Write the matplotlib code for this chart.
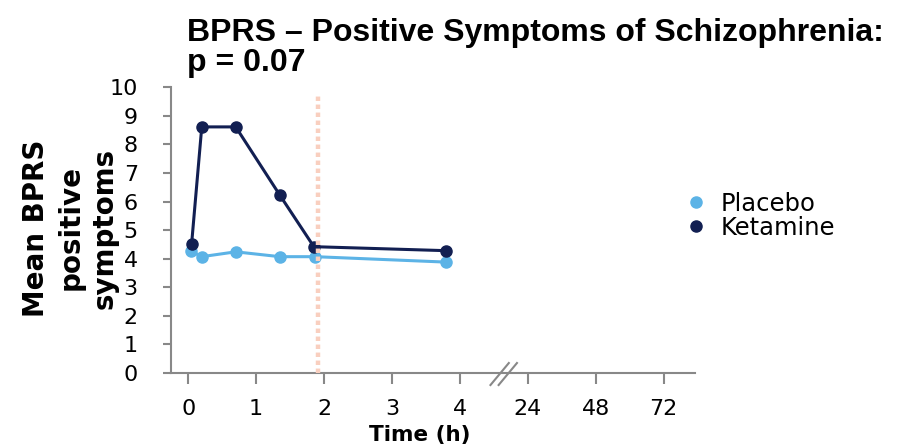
import matplotlib
matplotlib.use("Agg")
import matplotlib.pyplot as plt
import numpy as np

# Data
x_tick_labels = ["0", "1", "2", "3", "4", "24", "48", "72"]
x_tick_pos = [0, 1, 2, 3, 4, 5, 6, 7]
time_h = [0.05, 0.2, 0.7, 1.35, 1.85, 3.8]
placebo = [4.27, 4.07, 4.24, 4.07, 4.07, 3.88]
ketamine = [4.50, 8.61, 8.61, 6.22, 4.42, 4.28]
time_placebo = [0.04, 0.2, 0.7, 1.35, 1.87, 3.8]
vline_x = 1.91
vline_top = 9.72

c_plac = "#5cb3e6"
c_ket = "#121f52"
axis_col = "#888888"

fig = plt.figure(figsize=(9.01, 4.47), dpi=100)
ax = fig.add_axes([0.19, 0.1655, 0.581, 0.6395])

ax.plot(time_placebo, placebo, "-o", color=c_plac, lw=2.2, ms=8, zorder=3)
ax.plot(time_h, ketamine, "-o", color=c_ket, lw=2.2, ms=8, zorder=4)
ax.plot([vline_x, vline_x], [0, vline_top], linestyle=(0, (1, 0.8)), color="#f9cfbf", lw=3.2, zorder=5)

ax.set_xlim(-0.25, 7.456)
ax.set_ylim(0, 10)
ax.set_yticks(range(0, 11))
ax.set_xticks(x_tick_pos)
ax.set_xticklabels(x_tick_labels)

for s in ["top", "right"]:
    ax.spines[s].set_visible(False)
for s in ["left", "bottom"]:
    ax.spines[s].set_color(axis_col)
    ax.spines[s].set_linewidth(1.5)
ax.tick_params(axis="x", direction="out", length=8, width=1.5, color=axis_col, labelsize=16, pad=11)
ax.tick_params(axis="y", direction="out", length=6, width=1.5, color=axis_col, labelsize=16, pad=18)

# axis break marks
for dx in [0.0, 0.12]:
    ax.plot([4.45 + dx, 4.72 + dx], [-0.42, 0.35], color=axis_col, lw=1.5, clip_on=False, zorder=6)

# legend
fig.legend(handles=[plt.Line2D([], [], marker="o", ls="", color=c_plac, ms=8, label="Placebo"),
                    plt.Line2D([], [], marker="o", ls="", color=c_ket, ms=8, label="Ketamine")],
           loc="center left", bbox_to_anchor=(0.735, 0.517), frameon=False, fontsize=17.5,
           handletextpad=0.5, labelspacing=0.0, handlelength=1.0)

fig.text(0.208, 0.96, "BPRS – Positive Symptoms of Schizophrenia:\np = 0.07",
         family="Liberation Sans", fontweight="bold", fontsize=23, ha="left", va="top",
         linespacing=1.0)

fig.text(0.078, 0.49, "Mean BPRS\npositive\nsymptoms", rotation=90, fontweight="bold",
         fontsize=20, ha="center", va="center", multialignment="center", linespacing=1.3)

fig.text(0.466, 0.027, "Time (h)", fontweight="bold", fontsize=15.5, ha="center", va="center")

fig.savefig("out.png", dpi=100)
